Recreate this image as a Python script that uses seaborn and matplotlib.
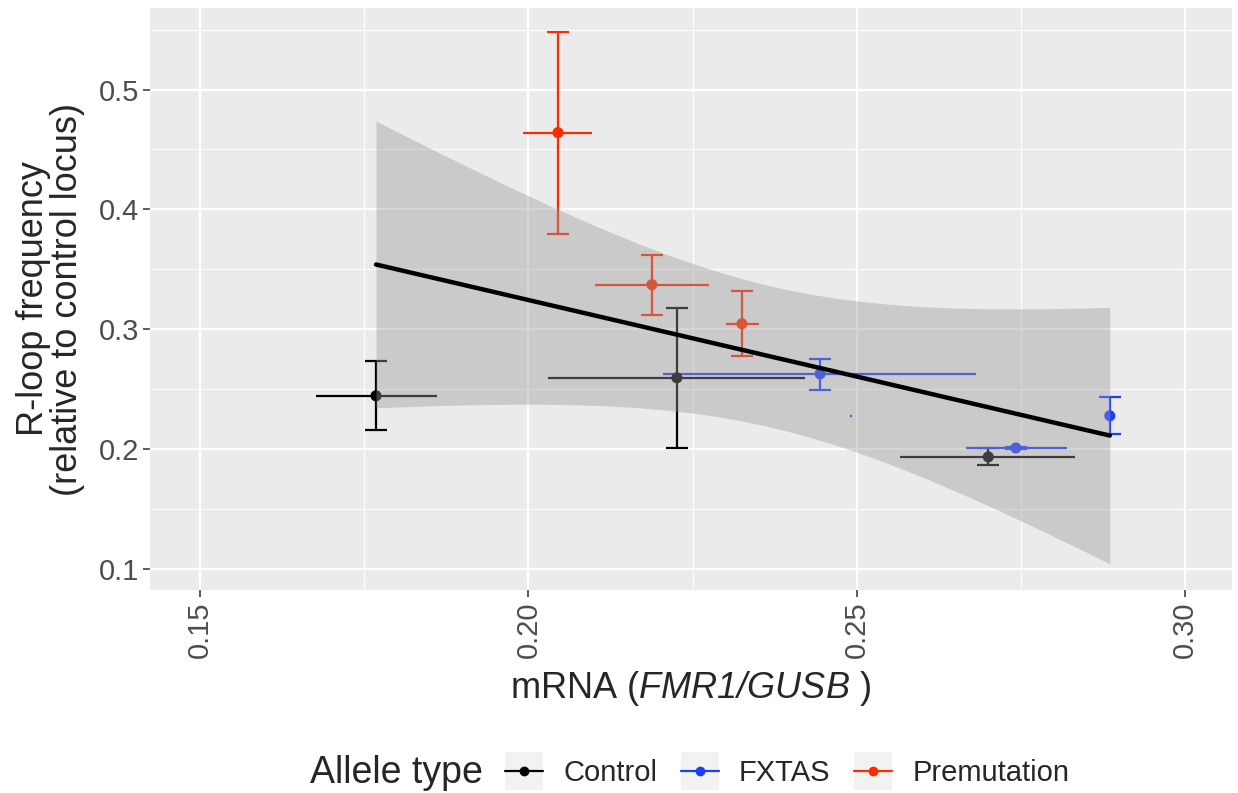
import numpy as np
import pandas as pd
import matplotlib
matplotlib.use("Agg")
import matplotlib.pyplot as plt
import seaborn as sns
from matplotlib.lines import Line2D
from matplotlib.patches import Rectangle
from matplotlib.legend_handler import HandlerLine2D

# ---------------- data ----------------
groups = ["Control", "Control", "Control",
          "FXTAS", "FXTAS", "FXTAS",
          "Premutation", "Premutation", "Premutation"]
mrna = [0.1768, 0.2226, 0.2700, 0.2444, 0.2742, 0.2885, 0.2045, 0.2188, 0.2325]
mrna_lo = [0.1677, 0.2030, 0.2565, 0.2205, 0.2666, 0.2489, 0.1992, 0.2101, 0.2301]
mrna_hi = [0.1861, 0.2421, 0.2832, 0.2681, 0.2820, 0.2493, 0.2097, 0.2275, 0.2351]
rloop = [0.2445, 0.2595, 0.1935, 0.2628, 0.2010, 0.2278, 0.4641, 0.3372, 0.3046]
rloop_lo = [0.2157, 0.2010, 0.1870, 0.2495, 0.2005, 0.2127, 0.3798, 0.3121, 0.2779]
rloop_hi = [0.2737, 0.3180, 0.2010, 0.2754, 0.2015, 0.2436, 0.5476, 0.3622, 0.3322]
allele_types = ["Control", "FXTAS", "Premutation"]
palette = {"Control": "#000000", "FXTAS": "#1E3CFF", "Premutation": "#FF2A00"}
x_ticks = [0.15, 0.20, 0.25, 0.30]
y_ticks = [0.1, 0.2, 0.3, 0.4, 0.5]

df = pd.DataFrame({"group": groups, "mrna": mrna, "mrna_lo": mrna_lo, "mrna_hi": mrna_hi,
                   "rloop": rloop, "rloop_lo": rloop_lo, "rloop_hi": rloop_hi})

# ---------------- style ----------------
sns.set_theme(style="darkgrid")
plt.rcParams["font.family"] = ["Liberation Sans", "DejaVu Sans"]
plt.rcParams["mathtext.fontset"] = "custom"
plt.rcParams["mathtext.it"] = "Liberation Sans:italic"
plt.rcParams["mathtext.rm"] = "Liberation Sans:italic"

fig = plt.figure(figsize=(12.38, 7.93), dpi=100)
ax = fig.add_axes([150 / 1238, 1 - 590 / 793, (1232 - 150) / 1238, (590 - 8) / 793])
ax.set_facecolor("#EBEBEB")
for s in ax.spines.values():
    s.set_visible(False)

xlim = (0.1424, 0.3071)
ylim = (0.0825, 0.568)
ax.set_xlim(*xlim)
ax.set_ylim(*ylim)

# grid
ax.set_xticks(x_ticks)
ax.set_yticks(y_ticks)
ax.set_xticks([0.175, 0.225, 0.275], minor=True)
ax.set_yticks([0.15, 0.25, 0.35, 0.45, 0.55], minor=True)
ax.grid(which="major", color="white", linewidth=1.6)
ax.grid(which="minor", color="white", linewidth=0.8)
ax.set_axisbelow(True)
ax.tick_params(which="minor", length=0)
ax.tick_params(which="major", length=5, width=1.1, color="#333333",
               labelsize=21, labelcolor="#4D4D4D", pad=3, bottom=True, left=True)
ax.set_xticklabels(["0.15", "0.20", "0.25", "0.30"], rotation=90, va="top")
ax.set_yticklabels(["0.1", "0.2", "0.3", "0.4", "0.5"])

# error bars
cap = 11 / 6570
for _, r in df.iterrows():
    c = palette[r["group"]]
    ax.vlines(r["mrna"], r["rloop_lo"], r["rloop_hi"], color=c, lw=1.6, zorder=2)
    ax.hlines([r["rloop_lo"], r["rloop_hi"]], r["mrna"] - cap, r["mrna"] + cap, color=c, lw=1.6, zorder=2)
    ax.hlines(r["rloop"], r["mrna_lo"], r["mrna_hi"], color=c, lw=1.6, zorder=2)

sns.scatterplot(data=df, x="mrna", y="rloop", hue="group", palette=palette, s=64,
                edgecolor="none", legend=False, ax=ax, zorder=3)

# linear fit with 95% confidence band
xv = np.asarray(mrna)
yv = np.asarray(rloop)
n = len(xv)
b1, b0 = np.polyfit(xv, yv, 1)
xs = np.linspace(xv.min(), xv.max(), 200)
yhat = b0 + b1 * xs
resid = yv - (b0 + b1 * xv)
se = np.sqrt(np.sum(resid ** 2) / (n - 2))
sxx = np.sum((xv - xv.mean()) ** 2)
tq = 2.364624
band = tq * se * np.sqrt(1 / n + (xs - xv.mean()) ** 2 / sxx)
ax.fill_between(xs, yhat - band, yhat + band, color="#999999", alpha=0.4, lw=0, zorder=4)
sns.lineplot(x=xs, y=yhat, color="black", lw=3.2, ax=ax, zorder=5)

ax.set_xlabel(r"mRNA ($FMR1/GUSB$ )", fontsize=26, labelpad=8)
ax.set_ylabel("R-loop frequency\n(relative to control locus)", fontsize=26, labelpad=10,
              linespacing=0.95)

# legend
class KeyHandler(HandlerLine2D):
    def create_artists(self, legend, orig_handle, xdescent, ydescent, width, height, fontsize, trans):
        arts = super().create_artists(legend, orig_handle, xdescent, ydescent, width, height, fontsize, trans)
        side = width
        rect = Rectangle((-xdescent, -ydescent + height / 2 - side / 2), side, side,
                         facecolor="#F2F2F2", edgecolor="none", transform=trans)
        return [rect] + list(arts)

handles = [Line2D([0], [0], color=palette[g], lw=1.6, marker="o", markersize=6) for g in allele_types]
fig.text(310 / 1238, 1 - 773 / 793, "Allele type", fontsize=27, va="center", ha="left")
leg = fig.legend(handles, allele_types, loc="center left", bbox_to_anchor=(505 / 1238, 1 - 773 / 793),
                 ncol=3, frameon=False, fontsize=21, handlelength=1.3, handletextpad=0.7,
                 columnspacing=0.8, borderpad=0, borderaxespad=0,
                 handler_map={Line2D: KeyHandler(marker_pad=0, numpoints=1)})

fig.savefig("out.png", dpi=100)
